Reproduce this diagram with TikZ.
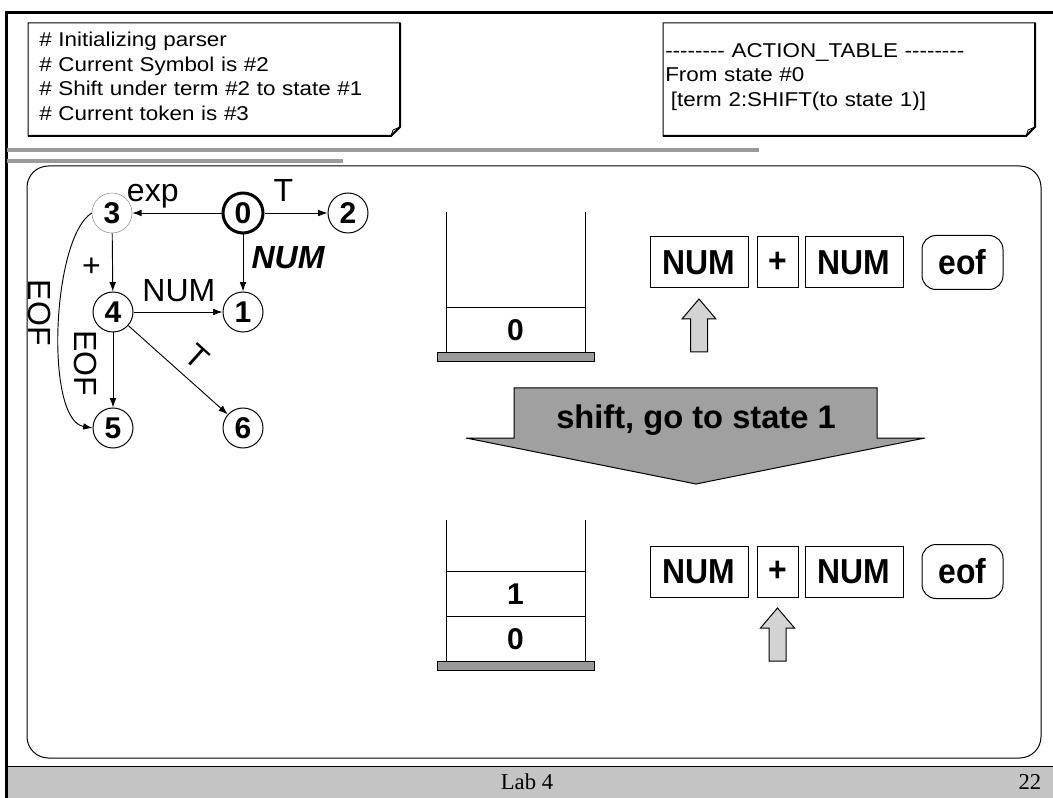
\documentclass[tikz,border=0pt]{standalone}
\usepackage{fontspec}
\setmainfont{Liberation Sans}
\newfontfamily\footfont{Liberation Serif}
\newfontfamily\notefont{Liberation Sans}[FakeStretch=1.12]
\newfontfamily\tokfont{Liberation Sans}[FakeStretch=0.92]
\usetikzlibrary{arrows.meta, positioning, calc}

\definecolor{slideGray}{RGB}{196,196,196}
\definecolor{ruleGray}{RGB}{154,154,154}
\definecolor{arrowGray}{RGB}{160,160,160}
\definecolor{ptrGray}{RGB}{211,211,211}

% hyphen that does not join into a dash
\newcommand{\hy}{-\kern0pt}

\tikzset{
  state/.style={draw, circle, line width=0.75pt, minimum size=30pt, inner sep=0pt,
                font=\fontsize{22.5}{26}\selectfont\bfseries},
  edge/.style={line width=0.7pt, -{Latex[length=7pt,width=5pt]}},
  lbl/.style={inner sep=0pt, font=\fontsize{24}{28}\selectfont},
  tok/.style={draw, line width=0.75pt, minimum width=73.5pt, minimum height=38.25pt,
              inner sep=0pt, outer sep=0pt, font=\tokfont\fontsize{26}{30}\selectfont\bfseries},
  cell/.style={draw, line width=0.75pt, minimum width=104.25pt, minimum height=33.75pt,
               inner sep=0pt, outer sep=0pt, font=\fontsize{22.5}{26}\selectfont\bfseries},
  note/.style={anchor=north west, inner sep=0pt, align=left,
               font=\notefont\fontsize{15}{18.4}\selectfont},
  base/.style={draw, fill=ruleGray, line width=0.75pt},
  ptr/.style={draw, fill=ptrGray, line width=0.75pt},
}

\begin{document}
\begin{tikzpicture}[x=0.75pt, y=-0.75pt]
  \useasboundingbox (0,0) rectangle (1053,798);

  % slide frame, footer and rules
  \fill[slideGray] (7,766) rectangle (1053,798);
  \draw[line width=0.75pt] (7,766) -- (1053,766);
  \draw[line width=2.25pt] (1053,12.5) -- (6.5,12.5) -- (6.5,798);
  \draw[ruleGray, line width=3pt] (7,150) -- (759,150);
  \draw[ruleGray, line width=3pt] (7,161) -- (343,161);
  \draw[line width=0.75pt, rounded corners=16pt] (27,166) rectangle (1041,758);
  \node[font=\footfont\fontsize{17}{20}\selectfont] (foot) at (527,782) {Lab 4};
  \node[font=\footfont\fontsize{17}{20}\selectfont, anchor=east] (page) at (1046,782) {22};

  % notes with folded corner
  \node[note, text width=262.5pt] (log) at (39,32)
    {\# Initializing parser\\\# Current Symbol is \#2\\\# Shift under term \#2 to state \#1\\\# Current token is \#3};
  \node[note, text width=270pt] (tab) at (665,43)
    {\hy\hy\hy\hy\hy\hy\hy- ACTION\_TABLE \hy\hy\hy\hy\hy\hy\hy-\\From state \#0\\\hspace*{0.28em}[term 2:SHIFT(to state 1)]};
  \foreach \x in {28,663} {
    \draw[line width=0.75pt] (\x,23) -- ++(372,0) -- ++(0,104) -- ++(-9,9) -- ++(-363,0) -- cycle;
    \draw[line width=1.5pt] (\x+372,23) -- ++(0,104) -- ++(-9,9) -- ++(-363,0);
    \draw[line width=0.6pt] (\x+363,136) -- ++(2,-6) -- ++(7,-3);
  }

  % automaton
  \node[state, line width=2.25pt] (n0) at (243,213) {0};
  \node[state, draw=black!45, line width=0.4pt] (n3) at (112,213) {3};
  \node[state] (n2) at (348,213) {2};
  \node[state] (n4) at (113,312) {4};
  \node[state] (n1) at (243,312) {1};
  \node[state] (n5) at (113,428) {5};
  \node[state] (n6) at (243,428) {6};

  \draw[edge] (n0) -- node[lbl, pos=.77, yshift=12.75pt] {exp} (n3);
  \draw[edge] (n0) -- node[lbl, pos=.3, yshift=17.25pt] {T} (n2);
  \draw[edge] (n0) -- node[lbl, pos=.4, xshift=33.75pt, font=\fontsize{24}{28}\selectfont\bfseries\itshape] {NUM} (n1);
  \draw[edge] (n3) -- node[lbl, pos=.59, xshift=-15.75pt] {+} (n4);
  \draw[edge] (n4) -- node[lbl, pos=.51, yshift=15.75pt] {NUM} (n1);
  \draw[edge] (n4) -- node[lbl, pos=.41, xshift=-20.25pt, rotate=-90] {EOF} (n5);
  \draw[edge] (n4) -- node[lbl, pos=.54, sloped, above=8.6pt] {T} (n6);
  \draw[edge] (n3.west) .. controls +(-40,25) and +(-48,-8) ..
    node[lbl, pos=.5, xshift=-14.4pt, yshift=10.5pt, rotate=-90] {EOF} (n5.west);

  % stack before the shift
  \node[cell] (s1c0) at (515.5,330.5) {0};
  \draw[line width=0.75pt] (s1c0.north west) -- ++(0,-96);
  \draw[line width=0.75pt] (s1c0.north east) -- ++(0,-96);
  \draw[base] ($(s1c0.south west)+(-9,0)$) rectangle ($(s1c0.south east)+(9,9)$);

  % input before the shift
  \node[tok] (a1) at (699,262.5) {NUM};
  \node[tok, minimum width=30.75pt, right=6.75pt of a1] (a2) {+};
  \node[tok, right=5.25pt of a2] (a3) {NUM};
  \node[tok, minimum width=60.75pt, minimum height=40.5pt, rounded corners=10.5pt, right=14.25pt of a3] (a4) {eof};
  \draw[ptr] ($(a1.south)+(0,11)$) -- ++(17,20) -- ++(-8.5,0) -- ++(0,33) -- ++(-17,0) -- ++(0,-33) -- ++(-8.5,0) -- cycle;

  % action
  \draw[line width=0.75pt, fill=arrowGray] (514,388) -- (877,388) -- (877,438) -- (925,438)
    -- (696,484) -- (466,438) -- (514,438) -- cycle;
  \node[font=\fontsize{24.5}{28}\selectfont\bfseries] (act) at (696,420) {shift, go to state 1};

  % stack after the shift
  \node[cell] (s2c0) at (515.5,639) {0};
  \node[cell, above=0pt of s2c0] (s2c1) {1};
  \draw[line width=0.75pt] (s2c1.north west) -- ++(0,-52);
  \draw[line width=0.75pt] (s2c1.north east) -- ++(0,-52);
  \draw[base] ($(s2c0.south west)+(-9,0)$) rectangle ($(s2c0.south east)+(9,9)$);

  % input after the shift
  \node[tok] (b1) at (699,571.5) {NUM};
  \node[tok, minimum width=30.75pt, right=6.75pt of b1] (b2) {+};
  \node[tok, right=5.25pt of b2] (b3) {NUM};
  \node[tok, minimum width=60.75pt, minimum height=40.5pt, rounded corners=10.5pt, right=14.25pt of b3] (b4) {eof};
  \draw[ptr] ($(b2.south)+(0,11)$) -- ++(17,20) -- ++(-8.5,0) -- ++(0,33) -- ++(-17,0) -- ++(0,-33) -- ++(-8.5,0) -- cycle;
\end{tikzpicture}
\end{document}
